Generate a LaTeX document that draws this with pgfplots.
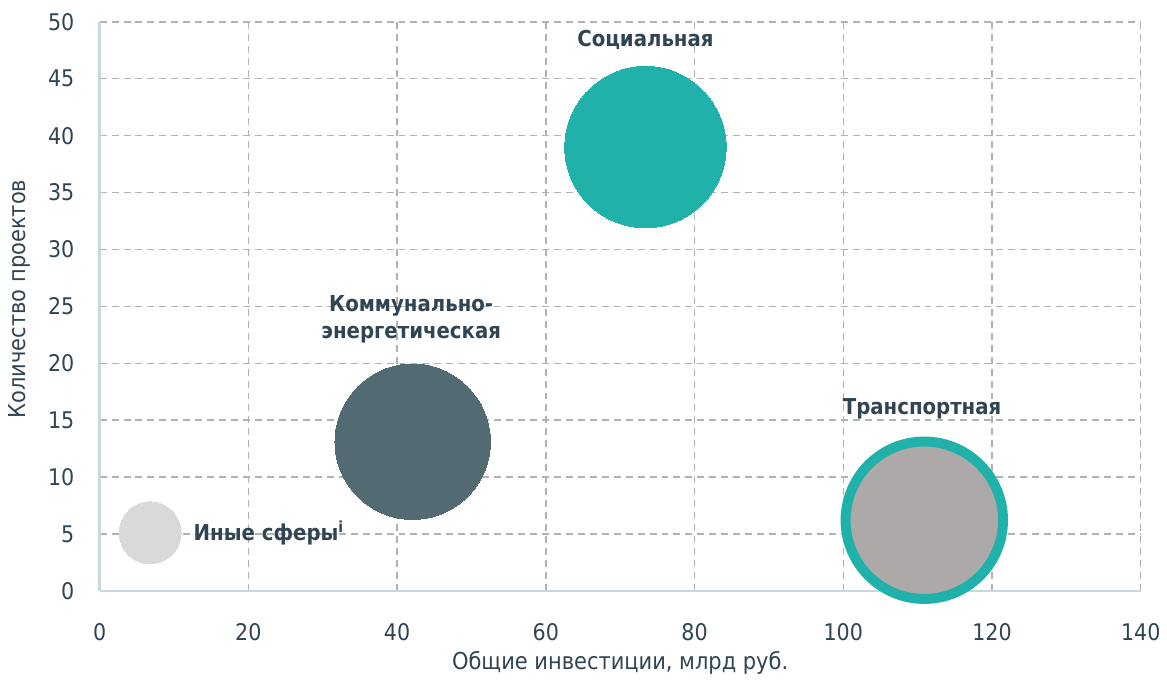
\documentclass[border=0pt]{standalone}
\usepackage{fontspec}
\setmainfont{DejaVu Sans Condensed}
\usepackage{pgfplots}
\pgfplotsset{compat=1.18}
\definecolor{teal1}{RGB}{32,178,170}
\definecolor{slate1}{RGB}{84,106,115}
\definecolor{gray1}{RGB}{173,169,168}
\definecolor{gray2}{RGB}{217,217,217}
\definecolor{txt}{RGB}{47,69,83}
\definecolor{axc}{RGB}{201,215,224}
\definecolor{gridc}{RGB}{178,178,178}
\begin{document}
\begin{tikzpicture}
\begin{axis}[
  scale only axis, width=522.5pt, height=285.5pt,
  xmin=0, xmax=140, ymin=0, ymax=50,
  xtick={0,20,...,140}, ytick={0,5,...,50},
  axis x line*=bottom, axis y line*=left,
  axis line style={draw=axc, line width=1.2pt, -},
  major tick length=0pt,
  grid=major,
  major grid style={draw=gridc, line width=0.7pt, dash pattern=on 3.5pt off 2.5pt},
  /pgf/number format/assume math mode=true,
  tick label style={font=\fontsize{11.5pt}{13pt}\selectfont, text=txt},
  x tick label style={anchor=center, yshift=-21pt},
  y tick label style={anchor=east, inner sep=0pt, xshift=-12.5pt},
  xlabel={Общие инвестиции, млрд руб.},
  ylabel={Количество проектов},
  label style={font=\fontsize{11.7pt}{13pt}\selectfont, text=txt},
  xlabel style={at={(axis description cs:0.5,-0.1261)}, anchor=center},
  ylabel style={at={(axis description cs:-0.0766,0.513)}, anchor=center},
  clip=false,
]
\addplot[only marks, mark=*, mark size=40.5pt, color=teal1, mark options={fill=teal1, draw=teal1, line width=0pt}] coordinates {(73.4,39)};
\addplot[only marks, mark=*, mark size=39pt, color=slate1, mark options={fill=slate1, draw=slate1, line width=0pt}] coordinates {(42.1,13.1)};
\addplot[only marks, mark=*, mark size=15.5pt, color=gray2, mark options={fill=gray2, draw=gray2, line width=0pt}] coordinates {(6.8,5.1)};
\addplot[only marks, mark=*, mark size=39.5pt, color=teal1, mark options={fill=gray1, draw=teal1, line width=5pt}] coordinates {(110.9,6.2)};
\node[font=\bfseries\fontsize{11pt}{13pt}\selectfont, text=txt] at (axis cs:73.4,48.4) {Социальная};
\node[font=\bfseries\fontsize{11pt}{13.5pt}\selectfont, text=txt, align=center] at (axis cs:41.9,23.9) {Коммунально-\\энергетическая};
\node[font=\bfseries\fontsize{11pt}{13pt}\selectfont, text=txt] at (axis cs:110.6,16.0) {Транспортная};
\node[font=\bfseries\fontsize{11pt}{13pt}\selectfont, text=txt, anchor=west, inner sep=0pt] at (axis cs:12.6,5.1) {Иные сферы\textsuperscript{i}};
\end{axis}
\path[use as bounding box] (-50pt,-44pt) rectangle (533.5pt,296.5pt);
\end{tikzpicture}
\end{document}
